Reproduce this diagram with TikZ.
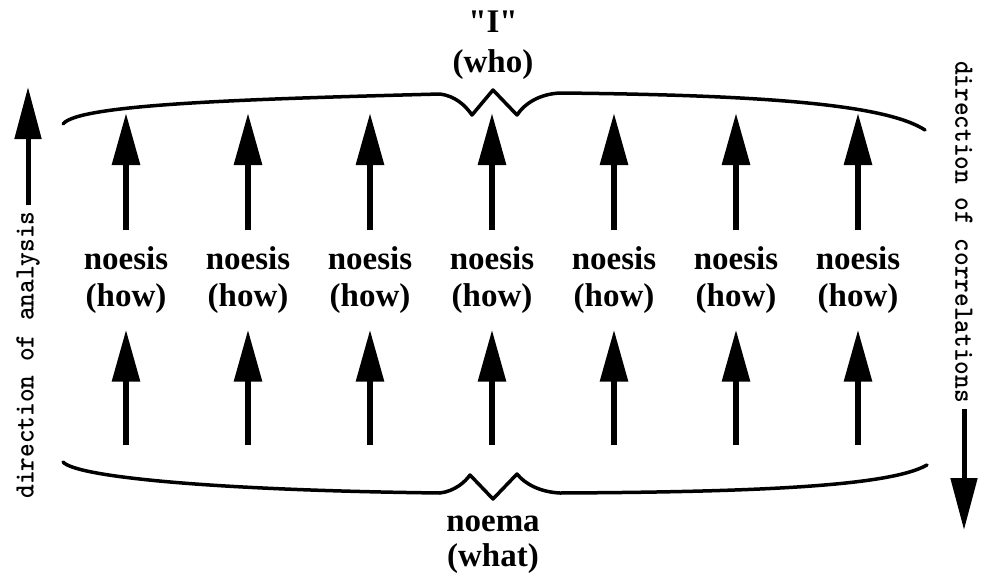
\documentclass[tikz,border=0pt]{standalone}
\usepackage{graphicx}
\usepackage{fontspec}
\setmainfont{Liberation Serif}[Ligatures=TeXOff]
\usetikzlibrary{arrows.meta}

\newcommand{\sidetext}[1]{\scalebox{0.93}[1]{#1}}

\begin{document}
\begin{tikzpicture}[x=1pt, y=-1pt,
	word/.style={font=\bfseries\fontsize{33}{37}\selectfont, align=center, inner xsep=0pt, inner ysep=16pt},
	side/.style={font=\ttfamily\bfseries\fontsize{28}{30}\selectfont, inner sep=6pt},
	uparrow/.style={line width=6pt, -{Triangle[length=52pt, width=27pt]}},
	sidearrow/.style={line width=5pt, -{Triangle[length=52pt, width=26pt]}},
	brace/.style={line width=3.5pt, line join=round, line cap=round}]
	\useasboundingbox (0,0) rectangle (986,581);
%	\draw [help lines, dashed] (0,0) grid[step=50] (986,581);  % help lines

	% braces
	\draw [brace] (63,124) .. controls (78,104) and (250,99) .. (440,94)
		.. controls (455,96) and (465,105) .. (472,115) -- (493,90) -- (517,115)
		.. controls (525,103) and (540,94) .. (560,93)
		.. controls (760,95) and (885,104) .. (925,130);  % I
	\draw [brace] (63,462) .. controls (75,476) and (200,490) .. (440,493)
		.. controls (455,491) and (465,482) .. (470,475) -- (493,499) -- (517,474)
		.. controls (525,484) and (540,492) .. (560,493)
		.. controls (760,492) and (890,486) .. (927,465);  % noema

	% brace labels
	\node [word, inner ysep=0pt, font=\bfseries\fontsize{33}{40}\selectfont] (who) at (493,45) {"I"\\(who)};
	\node [word, inner ysep=0pt, font=\bfseries\fontsize{33}{35}\selectfont] (what) at (493,545) {noema\\(what)};

	% noeses
	\node [word] (n1) at (126,280) {noesis\\(how)};
	\node [word] (n2) at (248,280) {noesis\\(how)};
	\node [word] (n3) at (370,280) {noesis\\(how)};
	\node [word] (n4) at (492,280) {noesis\\(how)};
	\node [word] (n5) at (614,280) {noesis\\(how)};
	\node [word] (n6) at (736,280) {noesis\\(how)};
	\node [word] (n7) at (858,280) {noesis\\(how)};

	% arrow ends
	\coordinate (uptip) at (0,113);
	\coordinate (lowfoot) at (0,445);

	% arrows
	\draw [uparrow] (n1.north) -- (n1.north |- uptip);
	\draw [uparrow] (n2.north) -- (n2.north |- uptip);
	\draw [uparrow] (n3.north) -- (n3.north |- uptip);
	\draw [uparrow] (n4.north) -- (n4.north |- uptip);
	\draw [uparrow] (n5.north) -- (n5.north |- uptip);
	\draw [uparrow] (n6.north) -- (n6.north |- uptip);
	\draw [uparrow] (n7.north) -- (n7.north |- uptip);

	\draw [uparrow] (n1.south |- lowfoot) -- (n1.south);
	\draw [uparrow] (n2.south |- lowfoot) -- (n2.south);
	\draw [uparrow] (n3.south |- lowfoot) -- (n3.south);
	\draw [uparrow] (n4.south |- lowfoot) -- (n4.south);
	\draw [uparrow] (n5.south |- lowfoot) -- (n5.south);
	\draw [uparrow] (n6.south |- lowfoot) -- (n6.south);
	\draw [uparrow] (n7.south |- lowfoot) -- (n7.south);

	% directions
	\node [side, rotate=90] (analysis) at (28,355) {\sidetext{direction of analysis}};
	\coordinate (analysistip) at (28,87);
	\draw [sidearrow] (analysis.east) -- (analysistip);

	\node [side, rotate=-90] (correl) at (964,232) {\sidetext{direction of correlations}};
	\coordinate (correltip) at (964,530);
	\draw [sidearrow] (correl.east) -- (correltip);
\end{tikzpicture}
\end{document}
